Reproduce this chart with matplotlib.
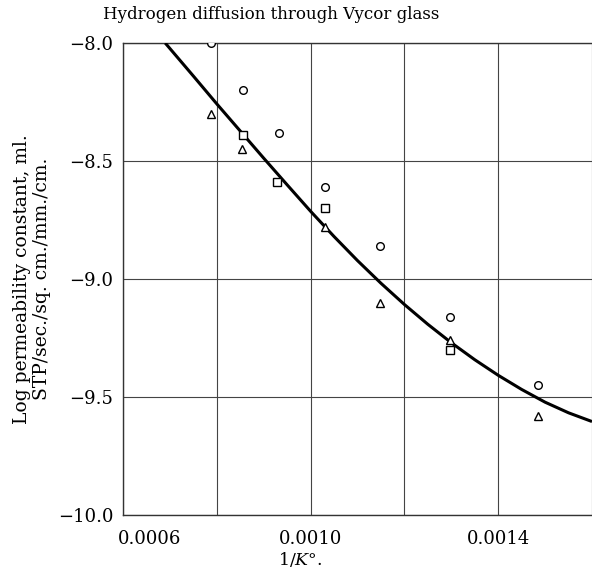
import numpy as np
import matplotlib
matplotlib.use("Agg")
import matplotlib.pyplot as plt
import matplotlib.transforms as mtransforms

plt.rcParams['font.family'] = ['DejaVu Serif']
plt.rcParams['mathtext.fontset'] = 'dejavuserif'

# data
circ_x = [0.000787, 0.000855, 0.000932, 0.001030, 0.001147, 0.001298, 0.001485]
circ_y = [-8.00, -8.20, -8.38, -8.61, -8.86, -9.16, -9.45]
tri_x = [0.000787, 0.000853, 0.001030, 0.001147, 0.001298, 0.001485]
tri_y = [-8.30, -8.45, -8.78, -9.10, -9.26, -9.58]
sq_x = [0.000855, 0.000928, 0.001030, 0.001298]
sq_y = [-8.39, -8.59, -8.70, -9.30]
# fitted curve, read along its length
curve_x = [0.00069, 0.00075, 0.00080, 0.00085, 0.00090, 0.00095, 0.00100, 0.00105,
           0.00110, 0.00115, 0.00120, 0.00125, 0.00130, 0.00135, 0.00140, 0.00145,
           0.00150, 0.00155, 0.00160]
curve_y = [-8.000, -8.140, -8.258, -8.373, -8.488, -8.601, -8.713, -8.820,
           -8.922, -9.018, -9.108, -9.192, -9.270, -9.342, -9.408, -9.468,
           -9.522, -9.567, -9.604]

xticks = [0.0006, 0.0008, 0.0010, 0.0012, 0.0014, 0.0016]
xtick_labels = ['0.0006', '', '0.0010', '', '0.0014', '']
yticks = [-10.0, -9.5, -9.0, -8.5, -8.0]
ytick_labels = ['\u221210.0', '\u22129.5', '\u22129.0', '\u22128.5', '\u22128.0']

fig = plt.figure(figsize=(5.92, 5.73), dpi=100)
ax = fig.add_axes([123/592, 58/573, 469/592, 472/573])

ax.plot(curve_x, curve_y, color='black', lw=2.2, solid_capstyle='butt', zorder=3)
mk = dict(ls='none', mfc='white', mec='black', ms=5.5, mew=1.0, zorder=4)
ax.plot(circ_x, circ_y, marker='o', **mk)
ax.plot(tri_x, tri_y, marker='^', **mk)
ax.plot(sq_x, sq_y, marker='s', **mk)

ax.set_xlim(0.0006, 0.0016)
ax.set_ylim(-10.0, -8.0)
ax.set_xticks(xticks)
ax.set_xticklabels(xtick_labels)
ax.set_yticks(yticks)
ax.set_yticklabels(ytick_labels)
ax.tick_params(axis='x', length=0, labelsize=13, pad=11)
ax.tick_params(axis='y', length=0, labelsize=13, pad=7)
ax.grid(True, color='#444444', lw=0.8)
ax.spines['right'].set_visible(False)
for s in ['left', 'bottom', 'top']:
    ax.spines[s].set_color('#333333')
    ax.spines[s].set_linewidth(1.0)

# first x label sits to the right of the axis line
lab0 = ax.get_xticklabels()[0]
lab0.set_transform(lab0.get_transform() + mtransforms.ScaledTranslation(27/100, 0, fig.dpi_scale_trans))

ax.set_title('Hydrogen diffusion through Vycor glass', fontsize=12, x=0.316, pad=17)
ax.set_xlabel('1/$K$\u00b0.', fontsize=12.5, labelpad=1, x=0.377)
ax.set_ylabel('Log permeability constant, ml.\nSTP/sec./sq. cm./mm./cm.',
              fontsize=13.5, linespacing=1.15, labelpad=5)

fig.savefig('out.png', dpi=100)
